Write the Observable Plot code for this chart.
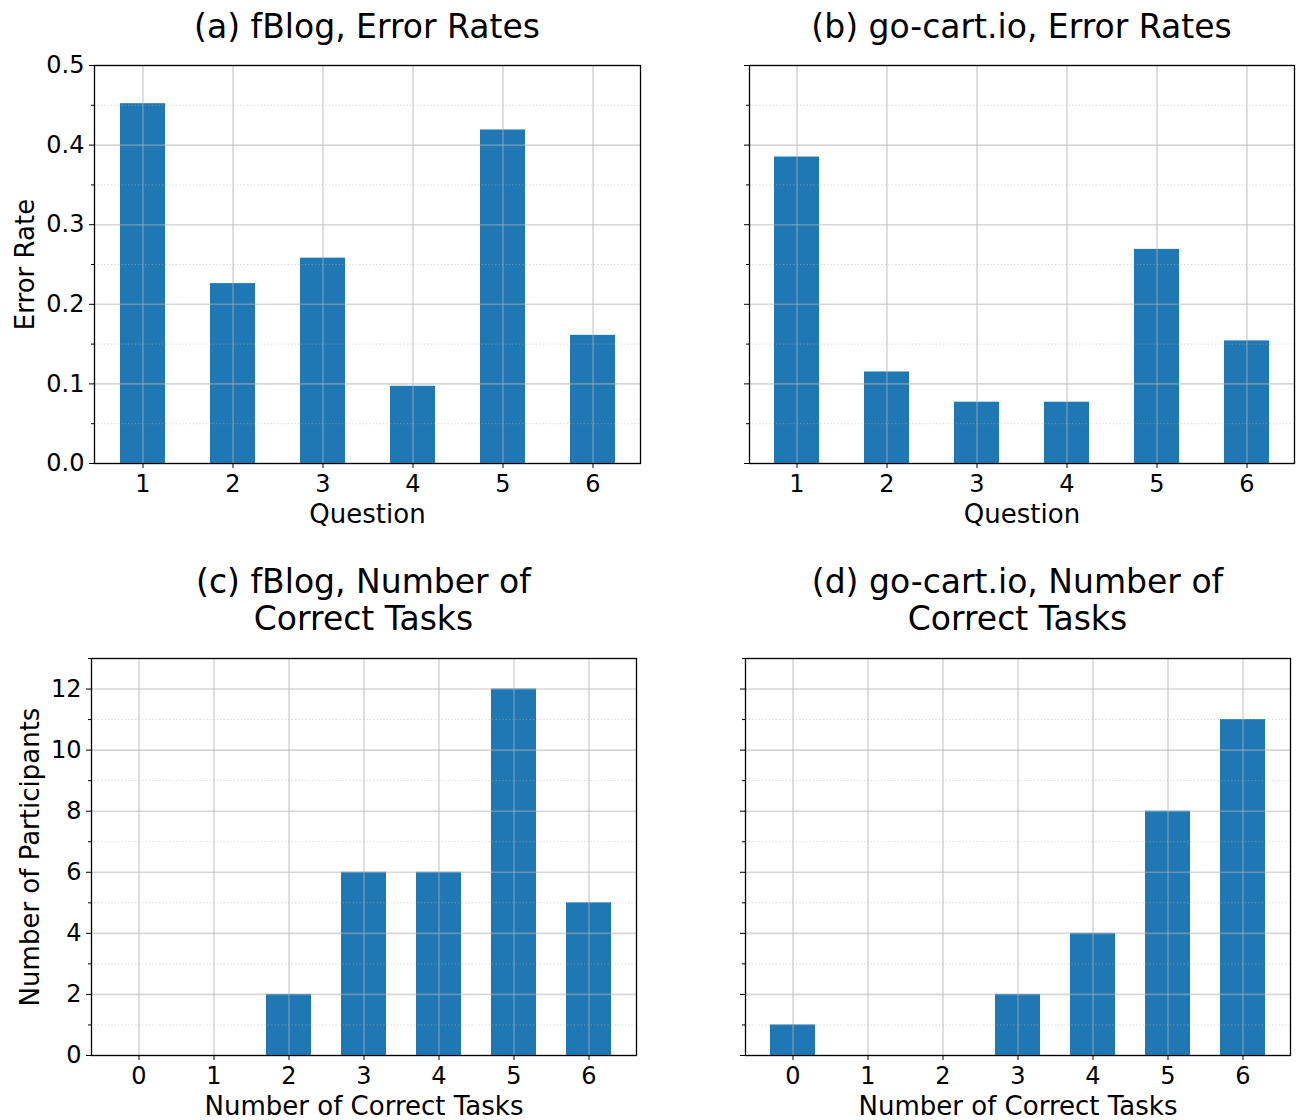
<!DOCTYPE html>
<html>
<head>
<meta charset="utf-8">
<script src="https://cdn.jsdelivr.net/npm/d3@7"></script>
<script src="https://cdn.jsdelivr.net/npm/@observablehq/plot@0.6"></script>
<style>
  html, body { margin: 0; padding: 0; background: white; }
  #root { position: relative; width: 1300px; height: 1120px; overflow: hidden; font-family: "DejaVu Sans", sans-serif; }
  .panel { position: absolute; }
  .title { position: absolute; font-size: 33px; line-height: 37px; text-align: center; white-space: pre; color: black; transform: translateX(-50%); }
</style>
</head>
<body>
<div id="root"></div>
<script>
// ---- data ----
const questions = [1, 2, 3, 4, 5, 6];
const fblogErrorRates = [0.452, 0.226, 0.258, 0.097, 0.419, 0.161];
const gocartErrorRates = [0.385, 0.115, 0.077, 0.077, 0.269, 0.154];
const correctTaskCounts = [0, 1, 2, 3, 4, 5, 6];
const fblogParticipants = [0, 0, 2, 6, 6, 12, 5];
const gocartParticipants = [1, 0, 0, 2, 4, 8, 11];
const errorRateTicks = [0, 0.1, 0.2, 0.3, 0.4, 0.5];
const errorRateMinorTicks = [0.05, 0.15, 0.25, 0.35, 0.45];
const participantTicks = [0, 2, 4, 6, 8, 10, 12];
const participantMinorTicks = [1, 3, 5, 7, 9, 11, 13];

const titles = {
  a: "(a) fBlog, Error Rates",
  b: "(b) go-cart.io, Error Rates",
  c: "(c) fBlog, Number of\nCorrect Tasks",
  d: "(d) go-cart.io, Number of\nCorrect Tasks"
};

const BAR = "#1f77b4";
const TICK_FS = 24;
const LABEL_FS = 26;
const root = document.getElementById("root");

function panel({left, top, width, height, mL, mR, mT, mB, cats, vals, xPadIn, xPadOut,
                yDomain, yTicks, yMinor, yFormat, showYLabels, xLabel, yLabel, yLabelDx, title, titleY}) {
  const data = cats.map((c, i) => ({c, v: vals[i]}));
  const marks = [
    Plot.barY(data, {x: "c", y: "v", fill: BAR}),
    Plot.gridY({ticks: yMinor, stroke: "#b0b0b0", strokeOpacity: 0.55, strokeWidth: 1, strokeDasharray: "1.2,2.2"}),
    Plot.gridY({ticks: yTicks, stroke: "#b0b0b0", strokeOpacity: 0.5, strokeWidth: 1.6}),
    Plot.gridX({stroke: "#b0b0b0", strokeOpacity: 0.5, strokeWidth: 1.6}),
    Plot.axisX({tickSize: 5, tickPadding: 6, fontSize: TICK_FS, label: null, stroke: "black"}),
    Plot.axisY({ticks: yTicks, tickSize: 5, tickPadding: 5, fontSize: TICK_FS, label: null,
                tickFormat: showYLabels ? yFormat : () => ""}),
    Plot.axisY({ticks: yMinor, tickSize: 3, tickPadding: 3, label: null, tickFormat: () => ""}),
    Plot.frame({stroke: "black", strokeWidth: 1.3}),
    Plot.text([xLabel], {frameAnchor: "bottom", dy: 51, text: d => d, fontSize: LABEL_FS, fill: "black",
                         textAnchor: "middle", lineAnchor: "middle"})
  ];
  if (yLabel) {
    marks.push(Plot.text([yLabel], {frameAnchor: "left", dx: yLabelDx, rotate: -90, text: d => d, fontSize: LABEL_FS,
                                    fill: "black", textAnchor: "middle", lineAnchor: "middle"}));
  }
  const chart = Plot.plot({
    width, height,
    marginLeft: mL, marginRight: mR, marginTop: mT, marginBottom: mB,
    x: {type: "band", domain: cats, paddingInner: xPadIn, paddingOuter: xPadOut, axis: null},
    y: {domain: yDomain, axis: null},
    style: {fontFamily: "DejaVu Sans", fontSize: TICK_FS + "px", color: "black", background: "white", overflow: "visible"},
    marks
  });
  const wrap = document.createElement("div");
  wrap.className = "panel";
  wrap.style.left = left + "px";
  wrap.style.top = top + "px";
  wrap.appendChild(chart);
  root.appendChild(wrap);

  const t = document.createElement("div");
  t.className = "title";
  t.textContent = title;
  t.style.left = (left + mL + (width - mL - mR) / 2) + "px";
  t.style.top = titleY + "px";
  root.appendChild(t);
}

const fmt1 = d3.format(".1f");
const fmt0 = d3.format("d");

// (a)
panel({left: 0, top: 40, width: 660, height: 500, mL: 94, mR: 20, mT: 25, mB: 77,
  cats: questions, vals: fblogErrorRates, xPadIn: 0.5, xPadOut: 0.275,
  yDomain: [0, 0.5], yTicks: errorRateTicks, yMinor: errorRateMinorTicks, yFormat: fmt1, showYLabels: true,
  xLabel: "Question", yLabel: "Error Rate", yLabelDx: -69, title: titles.a, titleY: 8});
// (b)
panel({left: 660, top: 40, width: 640, height: 500, mL: 89, mR: 6, mT: 25, mB: 77,
  cats: questions, vals: gocartErrorRates, xPadIn: 0.5, xPadOut: 0.275,
  yDomain: [0, 0.5], yTicks: errorRateTicks, yMinor: errorRateMinorTicks, yFormat: fmt1, showYLabels: false,
  xLabel: "Question", yLabel: null, title: titles.b, titleY: 8});
// (c)
panel({left: 0, top: 640, width: 660, height: 480, mL: 91, mR: 24, mT: 18, mB: 65,
  cats: correctTaskCounts, vals: fblogParticipants, xPadIn: 0.4, xPadOut: 0.33,
  yDomain: [0, 13], yTicks: participantTicks, yMinor: participantMinorTicks, yFormat: fmt0, showYLabels: true,
  xLabel: "Number of Correct Tasks", yLabel: "Number of Participants", yLabelDx: -61, title: titles.c, titleY: 563});
// (d)
panel({left: 660, top: 640, width: 640, height: 480, mL: 85, mR: 10, mT: 18, mB: 65,
  cats: correctTaskCounts, vals: gocartParticipants, xPadIn: 0.4, xPadOut: 0.33,
  yDomain: [0, 13], yTicks: participantTicks, yMinor: participantMinorTicks, yFormat: fmt0, showYLabels: false,
  xLabel: "Number of Correct Tasks", yLabel: null, title: titles.d, titleY: 563});
</script>
</body>
</html>
